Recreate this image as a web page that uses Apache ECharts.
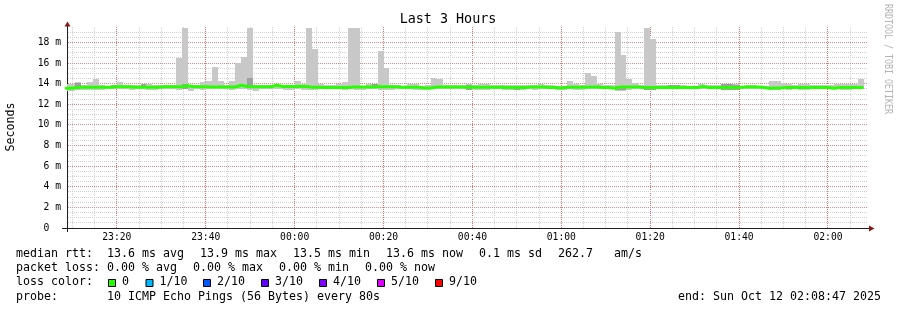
<!DOCTYPE html>
<html><head><meta charset="utf-8">
<script src="https://cdn.jsdelivr.net/npm/echarts@6/dist/echarts.min.js"></script>
<style>html,body{margin:0;padding:0;background:#fff}#c{width:897px;height:310px}</style>
</head><body><div id="c"></div>
<script>
// ---- time frame (minutes counted from 23:00) ----
const viewStart = '23:08:47';
const viewEnd = '02:08:47';
const firstBucketStart = '23:08:00';
const bucketSeconds = 80;
const majorMinutes = 20;
const minorMinutes = 5;
const yMajor = 2, yMinor = 0.5, yMax = 19.5;

// ---- per 80 s bucket values, in ms ----
const medianRtt = [
13.55,13.60,13.65,13.65,13.65,13.65,13.65,13.65,13.70,13.70,
13.70,13.65,13.65,13.65,13.65,13.65,13.70,13.70,13.70,13.70,
13.80,13.70,13.70,13.70,13.68,13.68,13.68,13.68,13.68,13.85,
13.72,13.70,13.70,13.70,13.70,13.85,13.72,13.72,13.72,13.72,
13.72,13.65,13.65,13.62,13.62,13.62,13.62,13.62,13.68,13.68,
13.68,13.68,13.70,13.70,13.70,13.70,13.65,13.65,13.65,13.65,
13.58,13.58,13.68,13.68,13.68,13.68,13.68,13.65,13.68,13.65,
13.65,13.65,13.65,13.65,13.62,13.62,13.62,13.62,13.68,13.68,
13.68,13.62,13.62,13.58,13.65,13.65,13.65,13.65,13.68,13.68,
13.62,13.62,13.55,13.68,13.68,13.68,13.68,13.62,13.62,13.62,
13.62,13.62,13.62,13.62,13.62,13.62,13.62,13.72,13.62,13.62,
13.62,13.62,13.62,13.62,13.68,13.68,13.68,13.65,13.55,13.58,
13.58,13.62,13.62,13.62,13.62,13.62,13.62,13.62,13.62,13.55,
13.62,13.62,13.62,13.62,13.62];

const smokeMax = [
14.00,13.95,14.12,13.85,14.15,14.45,13.85,13.80,13.87,14.15,
13.90,13.85,13.85,14.00,13.94,13.85,13.85,13.85,13.85,16.50,
19.40,13.90,13.85,14.15,14.30,15.65,14.25,13.90,14.25,16.05,
16.60,19.40,13.90,13.85,13.85,13.90,13.85,13.85,13.85,14.25,
14.00,19.40,17.40,13.94,13.90,13.90,14.00,14.15,19.40,19.40,
13.80,14.00,14.00,17.15,15.50,13.85,13.85,13.80,13.95,13.95,
13.80,13.85,14.60,14.42,13.90,13.85,13.85,13.85,13.95,13.85,
13.95,13.95,13.90,13.90,13.85,13.85,13.85,13.85,13.85,13.85,
14.00,13.90,13.85,13.80,13.80,14.30,14.00,13.90,15.05,14.70,
14.00,13.90,13.90,19.05,16.77,14.42,14.10,13.90,19.40,18.30,
13.90,13.85,13.85,13.85,13.85,13.80,13.80,13.94,13.90,13.85,
13.85,14.00,14.00,13.94,13.80,13.85,13.85,13.80,13.75,14.25,
14.25,14.05,13.94,13.85,14.00,14.00,13.90,13.85,13.85,13.85,
13.94,14.00,14.00,14.00,14.42];

const smokeMin = [
13.33,13.33,13.42,13.42,13.42,13.42,13.40,13.45,13.45,13.45,
13.45,13.40,13.45,13.45,13.42,13.42,13.45,13.45,13.45,13.40,
13.45,13.30,13.45,13.42,13.45,13.45,13.45,13.45,13.42,13.45,
13.45,13.40,13.30,13.45,13.45,13.45,13.45,13.42,13.42,13.45,
13.36,13.36,13.36,13.45,13.45,13.45,13.45,13.42,13.45,13.38,
13.38,13.45,13.45,13.36,13.36,13.40,13.45,13.45,13.45,13.40,
13.40,13.40,13.45,13.45,13.45,13.45,13.45,13.45,13.38,13.40,
13.40,13.40,13.45,13.45,13.42,13.42,13.40,13.42,13.45,13.40,
13.45,13.45,13.45,13.42,13.42,13.45,13.42,13.42,13.45,13.45,
13.45,13.45,13.45,13.30,13.30,13.40,13.45,13.45,13.40,13.40,
13.45,13.45,13.45,13.45,13.45,13.45,13.45,13.45,13.45,13.45,
13.45,13.38,13.38,13.40,13.45,13.45,13.45,13.45,13.45,13.42,
13.40,13.45,13.42,13.45,13.40,13.42,13.45,13.45,13.45,13.45,
13.45,13.42,13.42,13.45,13.45];

// denser smoke core (only where it shows outside the median line)
const coreBuckets = [2, 8, 13, 20, 31, 52, 68, 74, 76, 93, 94, 98, 99, 102, 103, 111, 112, 113, 119, 120];
const coreLo =      [13.60,13.60,13.60,13.50,13.60,13.60,13.40,13.45,13.42,13.35,13.35,13.42,13.42,13.55,13.55,13.40,13.40,13.42,13.45,13.45];
const coreHi =      [14.08,13.85,13.98,13.95,14.52,13.95,13.90,13.70,13.70,13.75,13.75,13.75,13.75,13.84,13.84,14.00,14.00,13.90,13.70,13.70];

// ---- axis / legend texts ----
const yUnit = 'm';
const titleText = 'Last 3 Hours';
const yTitle = 'Seconds';
const legendLines = [
  [['median rtt:  13.6 ms avg', 16], ['13.9 ms max', 200], ['13.5 ms min', 293], ['13.6 ms now', 386], ['0.1 ms sd', 479], ['262.7   am/s', 558]],
  [['packet loss: 0.00 % avg', 16], ['0.00 % max', 193], ['0.00 % min', 279], ['0.00 % now', 365]],
  [['loss color:', 16]],
  [['probe:       10 ICMP Echo Pings (56 Bytes) every 80s', 16], ['end: Sun Oct 12 02:08:47 2025', 678]]
];
const lossLabels = ['0', '1/10', '2/10', '3/10', '4/10', '5/10', '9/10'];
const lossColors = ['#26ff00', '#00b8ff', '#0059ff', '#5e00ff', '#7e00ff', '#dd00ff', '#ff0000'];
const lossBoxX = [108, 145.5, 203, 261, 319, 377, 435];

// ---- helpers ----
function toMin(s) {
  const p = s.split(':').map(Number);
  const h = p[0] >= 12 ? p[0] - 23 : p[0] + 1;
  return h * 60 + p[1] + (p[2] || 0) / 60;
}
function isMult(v, step) { const r = v / step; return Math.abs(r - Math.round(r)) < 1e-6; }
function fmtTime(v) {
  if (!isMult(v, majorMinutes)) return '';
  const t = Math.round(23 * 60 + v);
  const h = Math.floor(t / 60) % 24, m = t % 60;
  return String(h).padStart(2, '0') + ':' + String(m).padStart(2, '0');
}
const X_MIN = toMin(viewStart), X_MAX = toMin(viewEnd);
const B0 = toMin(firstBucketStart), BW = bucketSeconds / 60;
const bStart = k => B0 + k * BW;

const outerData = medianRtt.map((_, k) => [bStart(k), bStart(k + 1), smokeMin[k], smokeMax[k]]);
const coreData = coreBuckets.map((k, i) => [bStart(k), bStart(k + 1), coreLo[i], coreHi[i]]);
const medianData = medianRtt.map((v, k) => [bStart(k), v]);
medianData.push([bStart(medianRtt.length), medianRtt[medianRtt.length - 1]]);

// grid line positions (axis values)
const gridXMinor = [], gridXMajor = [];
for (let v = Math.ceil(X_MIN / minorMinutes) * minorMinutes; v < X_MAX; v += minorMinutes) {
  (isMult(v, majorMinutes) ? gridXMajor : gridXMinor).push([v, 0]);
}
const gridYValues = [];
for (let v = yMinor; v < yMax - 1e-9; v += yMinor) gridYValues.push([X_MIN, Math.round(v * 10) / 10]);

const MONO = 'DejaVu Sans Mono';
const GREY = '#d0d0d0', RED = '#e58585', VRED = '#e06a6a', AXIS = '#1f1f1f', ARROW = '#8b1a1a';

function smoke(color) {
  return function (params, api) {
    const a = api.coord([api.value(0), api.value(3)]);
    const b = api.coord([api.value(1), api.value(2)]);
    const cs = params.coordSys;
    const x0 = Math.round(a[0]), x1 = Math.round(b[0]);
    const y0 = Math.round(a[1]), y1 = Math.round(b[1]);
    const shape = echarts.graphic.clipRectByRect(
      { x: x0, y: y0, width: x1 - x0, height: Math.max(1, y1 - y0) },
      { x: cs.x, y: cs.y, width: cs.width, height: cs.height });
    if (!shape) return;
    return { type: 'rect', shape: shape, style: { fill: color } };
  };
}
function vGrid(color) {
  return function (params, api) {
    const v = api.value(0);
    const p = api.coord([v, yMax]);
    const cs = params.coordSys;
    const x = Math.floor(p[0]) + 0.5;
    return { type: 'line', shape: { x1: x, y1: cs.y, x2: x, y2: cs.y + cs.height },
      style: { stroke: color, lineWidth: 1, lineDash: [1, 1] } };
  };
}
function hGrid(params, api) {
  const v = api.value(1);
  const p = api.coord([X_MIN, v]);
  const cs = params.coordSys;
  const y = Math.floor(p[1]) + 0.5;
  const major = isMult(v, yMajor);
  return { type: 'line', shape: { x1: cs.x + 1, y1: y, x2: cs.x + cs.width, y2: y },
    style: { stroke: major ? RED : GREY, lineWidth: 1, lineDash: [1, 1] }, z2: major ? 2 : 1 };
}

const graphics = [];
graphics.push({ type: 'text', x: 448, y: 19.5, style: { text: titleText, font: '13.4px "' + MONO + '"', fill: '#000', textAlign: 'center', textVerticalAlign: 'middle' } });
graphics.push({ type: 'text', x: 11, y: 127, rotation: Math.PI / 2, style: { text: yTitle, font: '11.63px "' + MONO + '"', fill: '#000', textAlign: 'center', textVerticalAlign: 'middle' } });
graphics.push({ type: 'text', x: 887.5, y: 59, rotation: -Math.PI / 2, scaleY: 1.25, style: { text: 'RRDTOOL / TOBI OETIKER', font: '8.3px "' + MONO + '"', fill: '#b4b4b4', textAlign: 'center', textVerticalAlign: 'middle' } });
const lineY = [254, 268.2, 282.4, 296.6];
legendLines.forEach((items, li) => items.forEach(it => {
  graphics.push({ type: 'text', x: it[1], y: lineY[li], style: { text: it[0], font: '11.63px "' + MONO + '"', fill: '#000', textAlign: 'left', textVerticalAlign: 'middle' } });
}));
lossLabels.forEach((lab, i) => {
  graphics.push({ type: 'rect', shape: { x: lossBoxX[i] + 0.5, y: 279.5, width: 7, height: 7 }, style: { fill: lossColors[i], stroke: '#000', lineWidth: 1 } });
  graphics.push({ type: 'text', x: lossBoxX[i] + 14, y: lineY[2], style: { text: lab, font: '11.63px "' + MONO + '"', fill: '#000', textAlign: 'left', textVerticalAlign: 'middle' } });
});
// axis extensions and arrows
graphics.push({ type: 'line', shape: { x1: 62, y1: 228.5, x2: 67, y2: 228.5 }, style: { stroke: AXIS, lineWidth: 1 } });
graphics.push({ type: 'line', shape: { x1: 867, y1: 228.5, x2: 869, y2: 228.5 }, style: { stroke: AXIS, lineWidth: 1 } });
graphics.push({ type: 'line', shape: { x1: 67.5, y1: 228, x2: 67.5, y2: 232 }, style: { stroke: AXIS, lineWidth: 1 } });
graphics.push({ type: 'line', shape: { x1: 67.5, y1: 26, x2: 67.5, y2: 27 }, style: { stroke: AXIS, lineWidth: 1 } });
graphics.push({ type: 'polygon', shape: { points: [[869, 225.5], [874.5, 228.5], [869, 231.5]] }, style: { fill: ARROW } });
graphics.push({ type: 'polygon', shape: { points: [[64.5, 26.5], [67.5, 21.5], [70.5, 26.5]] }, style: { fill: ARROW } });

const chart = echarts.init(document.getElementById('c'), null, { renderer: 'canvas' });
chart.setOption({
  animation: false,
  backgroundColor: '#fff',
  grid: { left: 67, top: 27, width: 800, height: 201 },
  xAxis: {
    type: 'value', min: X_MIN, max: X_MAX, splitNumber: 36, minInterval: minorMinutes, maxInterval: minorMinutes,
    axisLine: { show: true, onZero: false, lineStyle: { color: AXIS, width: 1 } },
    axisTick: { show: false },
    axisLabel: { show: true, showMinLabel: false, showMaxLabel: false, hideOverlap: false, formatter: fmtTime, fontFamily: MONO, fontSize: 9.7, color: '#000', margin: 4 },
    splitLine: { show: false }
  },
  yAxis: {
    type: 'value', min: 0, max: yMax, interval: yMinor,
    axisLine: { show: true, onZero: false, lineStyle: { color: AXIS, width: 1 } },
    axisTick: { show: false },
    axisLabel: { show: true, showMaxLabel: false, formatter: v => !isMult(v, yMajor) ? '' : (v === 0 ? '0  ' : v + ' ' + yUnit), fontFamily: MONO, fontSize: 9.7, color: '#000', margin: 6 },
    splitLine: { show: false }
  },
  series: [
    { type: 'custom', name: 'vgridMinor', z: 1, renderItem: vGrid(GREY), data: gridXMinor, silent: true, clip: false },
    { type: 'custom', name: 'hgrid', z: 1, renderItem: hGrid, data: gridYValues, silent: true, clip: false },
    { type: 'custom', name: 'vgridMajor', z: 1, renderItem: vGrid(VRED), data: gridXMajor, silent: true, clip: false },
    { type: 'custom', z: 2, renderItem: smoke('#c8c8c8'), data: outerData, encode: { x: [0, 1], y: [2, 3] }, silent: true },
    { type: 'custom', z: 2, renderItem: smoke('#a0a0a0'), data: coreData, encode: { x: [0, 1], y: [2, 3] }, silent: true },
    { type: 'line', z: 3, data: medianData, step: 'end', showSymbol: false, symbol: 'none',
      lineStyle: { color: '#26ff00', width: 3 }, clip: true, silent: true }
  ],
  graphic: graphics
});
</script></body></html>
